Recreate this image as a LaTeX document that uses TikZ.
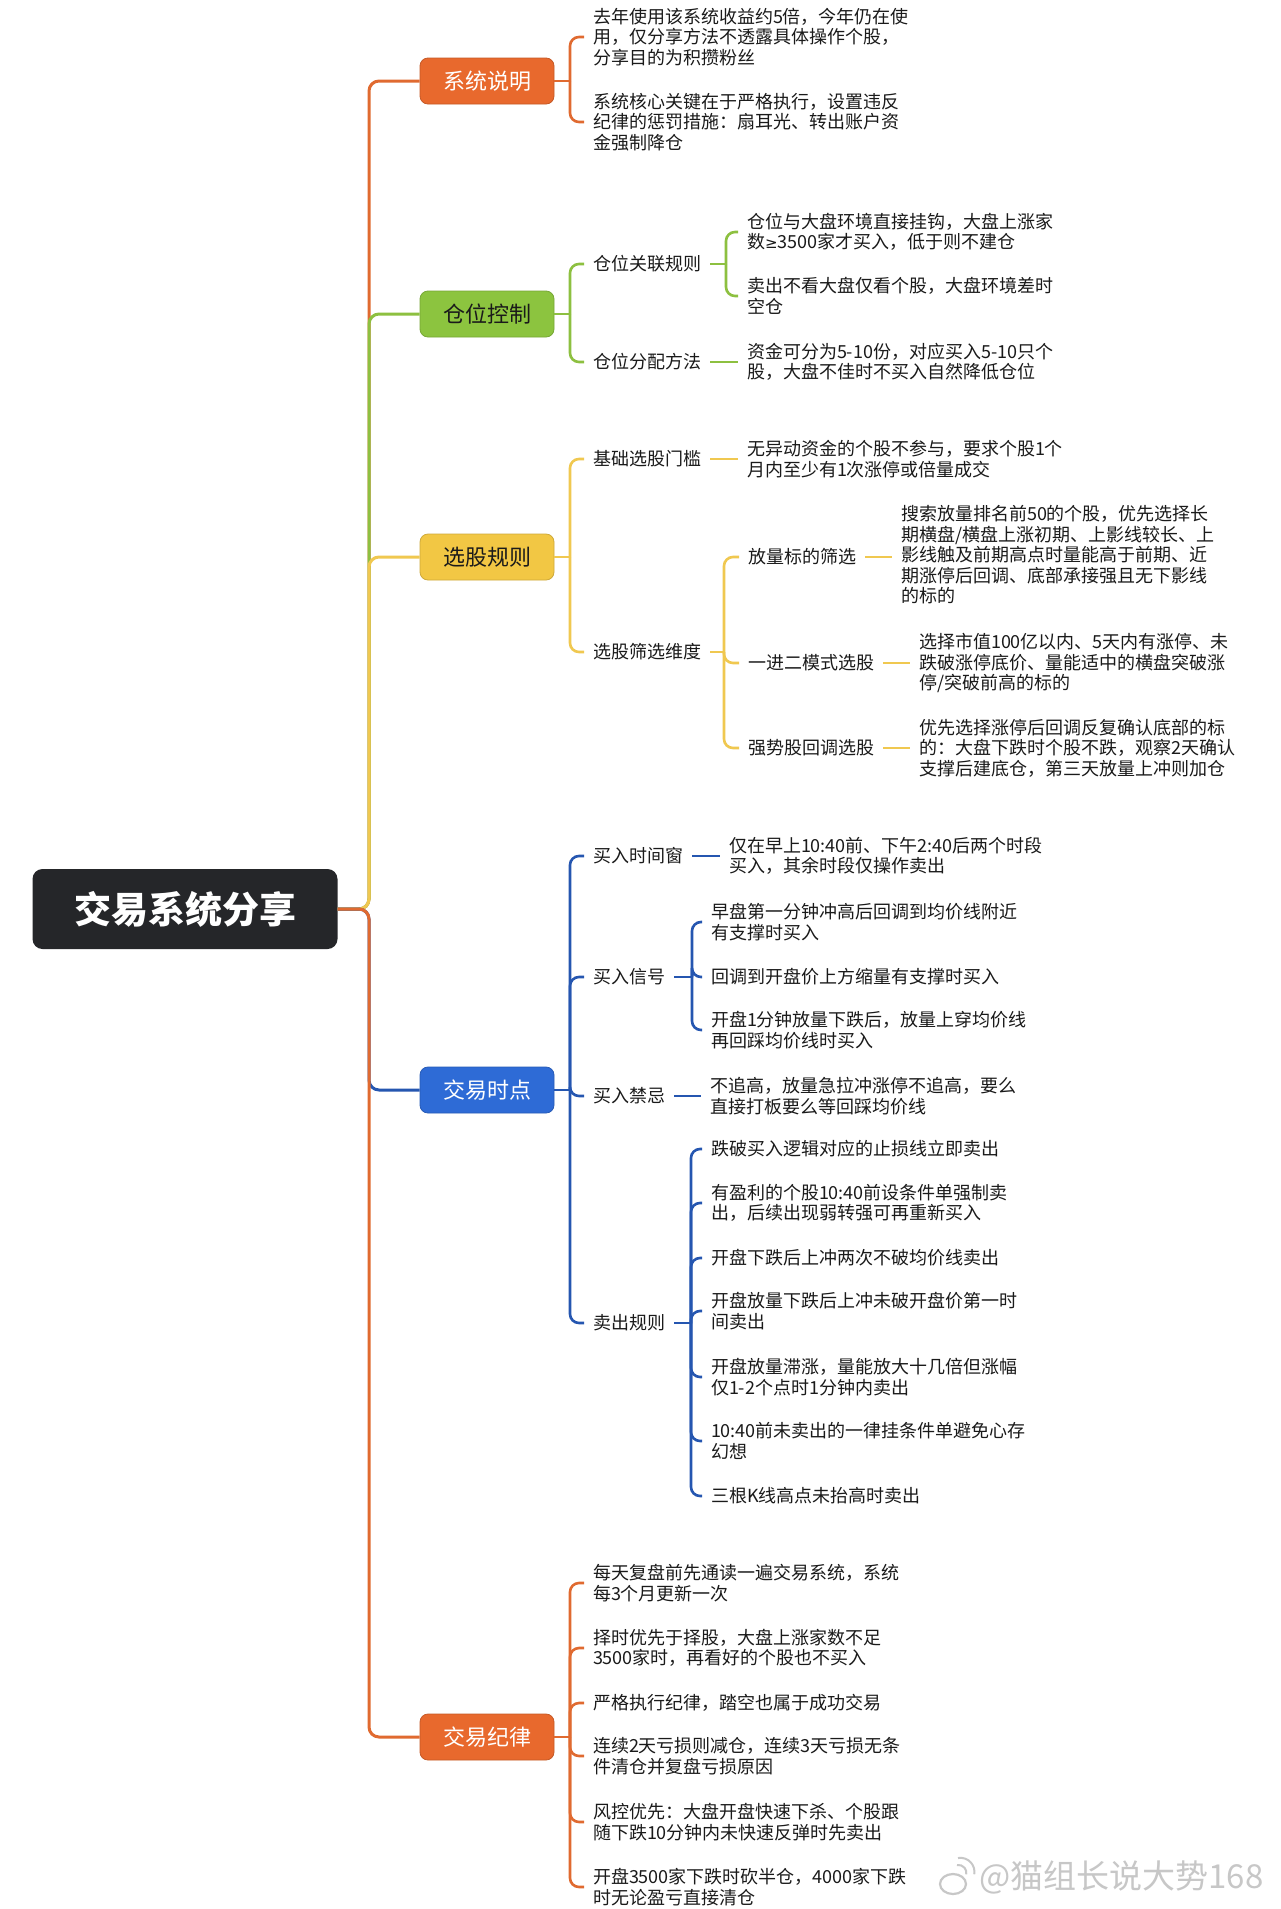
\documentclass[tikz,border=0pt]{standalone}
\usepackage{fontspec}
\setmainfont{Noto Sans CJK SC}
\newfontfamily\symfont{DejaVu Sans}
\definecolor{rootc}{HTML}{252629}
\definecolor{orgc}{HTML}{E8692D}
\definecolor{orgl}{HTML}{E06A30}
\definecolor{grnc}{HTML}{8CC43F}
\definecolor{grnl}{HTML}{8DC040}
\definecolor{ylwc}{HTML}{F2C744}
\definecolor{ylwl}{HTML}{F0C850}
\definecolor{bluc}{HTML}{2E6BD6}
\definecolor{blul}{HTML}{2556B0}
\definecolor{txt}{HTML}{1A1A1A}
\begin{document}
\begin{tikzpicture}[x=1pt,y=-1pt,
  every node/.style={inner sep=0pt},
  lone/.style={rounded corners=8pt, minimum width=134pt, minimum height=46pt, font=\fontsize{22}{26}\selectfont},
  lt/.style={anchor=west, align=left, outer xsep=9pt, text=txt, font=\fontsize{18}{20.5}\selectfont},
  trunkc/.style={line width=3pt, rounded corners=10pt},
  con/.style={line width=2.6pt, rounded corners=9pt}
]
\fill[white] (0,0) rectangle (1280,1909);
\useasboundingbox (0,0) rectangle (1280,1909);

% root and level-1 nodes
\node[fill=rootc, rounded corners=10pt, minimum width=305pt, minimum height=80pt, text=white, font=\fontsize{37}{40}\selectfont\bfseries] (root) at (185,909) {交易系统分享};
\coordinate (tr) at (369,909);

\node[lone, fill=orgc, draw=orgc!85!black, line width=0.8pt, text=white] (s1) at (487,81) {系统说明};
\node[lone, fill=grnc, draw=grnc!85!black, line width=0.8pt, text=txt] (s2) at (487,314) {仓位控制};
\node[lone, fill=ylwc, draw=ylwc!85!black, line width=0.8pt, text=txt] (s3) at (487,557) {选股规则};
\node[lone, fill=bluc, draw=bluc!85!black, line width=0.8pt, text=white] (s4) at (487,1090) {交易时点};
\node[lone, fill=orgc, draw=orgc!85!black, line width=0.8pt, text=white] (s5) at (487,1737) {交易纪律};

% trunk
\draw[trunkc, orgl] (root.east) -- (tr) |- (s1.west);
\draw[trunkc, grnl] (root.east) -- (tr) |- (s2.west);
\draw[trunkc, ylwl] (root.east) -- (tr) |- (s3.west);
\draw[trunkc, blul] (root.east) -- (tr) |- (s4.west);
\draw[trunkc, orgl] (root.east) -- (tr) |- (s5.west);

% junction points of the brackets
\coordinate (j1) at (570,81);
\coordinate (j2) at (570,314);
\coordinate (j21) at (726,264);
\coordinate (j3) at (570,557);
\coordinate (j32) at (724,652);
\coordinate (j4) at (570,1090);
\coordinate (j42) at (692,977);
\coordinate (j44) at (691,1323);
\coordinate (j5) at (570,1737);

% ---------- 系统说明
\node[lt] (a1) at (584,37) {去年使用该系统收益约5倍，今年仍在使\\用，仅分享方法不透露具体操作个股，\\分享目的为积攒粉丝};
\node[lt] (a2) at (584,122) {系统核心关键在于严格执行，设置违反\\纪律的惩罚措施：扇耳光、转出账户资\\金强制降仓};
\draw[con, orgl] (s1.east) -- (j1);
\draw[con, orgl] (j1) |- (a1.west);
\draw[con, orgl] (j1) |- (a2.west);

% ---------- 仓位控制
\node[lt] (b1) at (584,264) {仓位关联规则};
\node[lt] (b2) at (584,362) {仓位分配方法};
\node[lt] (b11) at (738,232) {仓位与大盘环境直接挂钩，大盘上涨家\\数{\symfont\fontsize{15}{18}\selectfont≥}3500家才买入，低于则不建仓};
\node[lt] (b12) at (738,296) {卖出不看大盘仅看个股，大盘环境差时\\空仓};
\node[lt] (b21) at (738,362) {资金可分为5-10份，对应买入5-10只个\\股，大盘不佳时不买入自然降低仓位};
\draw[con, grnl] (s2.east) -- (j2);
\draw[con, grnl] (j2) |- (b1.west);
\draw[con, grnl] (j2) |- (b2.west);
\draw[con, grnl] (b1.east) -- (j21);
\draw[con, grnl] (j21) |- (b11.west);
\draw[con, grnl] (j21) |- (b12.west);
\draw[con, grnl] (b2.east) -- (b21.west);

% ---------- 选股规则
\node[lt] (c1) at (584,459) {基础选股门槛};
\node[lt] (c11) at (738,459) {无异动资金的个股不参与，要求个股1个\\月内至少有1次涨停或倍量成交};
\node[lt] (c2) at (584,652) {选股筛选维度};
\node[lt] (c21) at (739,557) {放量标的筛选};
\node[lt] (c211) at (892,555) {搜索放量排名前50的个股，优先选择长\\期横盘/横盘上涨初期、上影线较长、上\\影线触及前期高点时量能高于前期、近\\期涨停后回调、底部承接强且无下影线\\的标的};
\node[lt] (c22) at (739,663) {一进二模式选股};
\node[lt] (c221) at (910,663) {选择市值100亿以内、5天内有涨停、未\\跌破涨停底价、量能适中的横盘突破涨\\停/突破前高的标的};
\node[lt] (c23) at (739,748) {强势股回调选股};
\node[lt] (c231) at (910,748) {优先选择涨停后回调反复确认底部的标\\的：大盘下跌时个股不跌，观察2天确认\\支撑后建底仓，第三天放量上冲则加仓};
\draw[con, ylwl] (s3.east) -- (j3);
\draw[con, ylwl] (j3) |- (c1.west);
\draw[con, ylwl] (j3) |- (c2.west);
\draw[con, ylwl] (c1.east) -- (c11.west);
\draw[con, ylwl] (c2.east) -- (j32);
\foreach \c in {c21,c22,c23}{\draw[con, ylwl] (j32) |- (\c.west);}
\draw[con, ylwl] (c21.east) -- (c21.east -| c211.west);
\draw[con, ylwl] (c22.east) -- (c221.west);
\draw[con, ylwl] (c23.east) -- (c231.west);

% ---------- 交易时点
\node[lt] (d1) at (584,856) {买入时间窗};
\node[lt] (d11) at (720,856) {仅在早上10:40前、下午2:40后两个时段\\买入，其余时段仅操作卖出};
\node[lt] (d2) at (584,977) {买入信号};
\node[lt] (d21) at (702,922) {早盘第一分钟冲高后回调到均价线附近\\有支撑时买入};
\node[lt] (d22) at (702,977) {回调到开盘价上方缩量有支撑时买入};
\node[lt] (d23) at (702,1030) {开盘1分钟放量下跌后，放量上穿均价线\\再回踩均价线时买入};
\node[lt] (d3) at (584,1096) {买入禁忌};
\node[lt] (d31) at (701,1096) {不追高，放量急拉冲涨停不追高，要么\\直接打板要么等回踩均价线};
\node[lt] (d4) at (584,1323) {卖出规则};
\node[lt] (d41) at (702,1149) {跌破买入逻辑对应的止损线立即卖出};
\node[lt] (d42) at (702,1203) {有盈利的个股10:40前设条件单强制卖\\出，后续出现弱转强可再重新买入};
\node[lt] (d43) at (702,1258) {开盘下跌后上冲两次不破均价线卖出};
\node[lt] (d44) at (702,1311) {开盘放量下跌后上冲未破开盘价第一时\\间卖出};
\node[lt] (d45) at (702,1377) {开盘放量滞涨，量能放大十几倍但涨幅\\仅1-2个点时1分钟内卖出};
\node[lt] (d46) at (702,1441) {10:40前未卖出的一律挂条件单避免心存\\幻想};
\node[lt] (d47) at (702,1496) {三根K线高点未抬高时卖出};
\draw[con, blul] (s4.east) -- (j4);
\foreach \c in {d1,d2,d3,d4}{\draw[con, blul] (j4) |- (\c.west);}
\draw[con, blul] (d1.east) -- (d11.west);
\draw[con, blul] (d3.east) -- (d31.west);
\draw[con, blul] (d2.east) -- (j42);
\foreach \c in {d21,d22,d23}{\draw[con, blul] (j42) |- (\c.west);}
\draw[con, blul] (d4.east) -- (j44);
\foreach \c in {d41,d42,d43,d44,d45,d46,d47}{\draw[con, blul] (j44) |- (\c.west);}

% ---------- 交易纪律
\node[lt] (e1) at (584,1583) {每天复盘前先通读一遍交易系统，系统\\每3个月更新一次};
\node[lt] (e2) at (584,1648) {择时优先于择股，大盘上涨家数不足\\3500家时，再看好的个股也不买入};
\node[lt] (e3) at (584,1703) {严格执行纪律，踏空也属于成功交易};
\node[lt] (e4) at (584,1756) {连续2天亏损则减仓，连续3天亏损无条\\件清仓并复盘亏损原因};
\node[lt] (e5) at (584,1822) {风控优先：大盘开盘快速下杀、个股跟\\随下跌10分钟内未快速反弹时先卖出};
\node[lt] (e6) at (584,1887) {开盘3500家下跌时砍半仓，4000家下跌\\时无论盈亏直接清仓};
\draw[con, orgl] (s5.east) -- (j5);
\foreach \c in {e1,e2,e3,e4,e5,e6}{\draw[con, orgl] (j5) |- (\c.west);}

% ---------- watermark
\node[anchor=west, text=black!22, font=\fontsize{33}{35}\selectfont] (wm) at (979,1877) {@猫组长说大势168};
\draw[black!22, line width=2.2pt] (953,1884) ellipse [x radius=13pt, y radius=10pt];
\draw[black!22, line width=2pt] (957,1865) arc[start angle=100, end angle=-10, radius=8pt];
\draw[black!22, line width=2pt] (958,1858) arc[start angle=100, end angle=-10, radius=14pt];
\end{tikzpicture}
\end{document}
